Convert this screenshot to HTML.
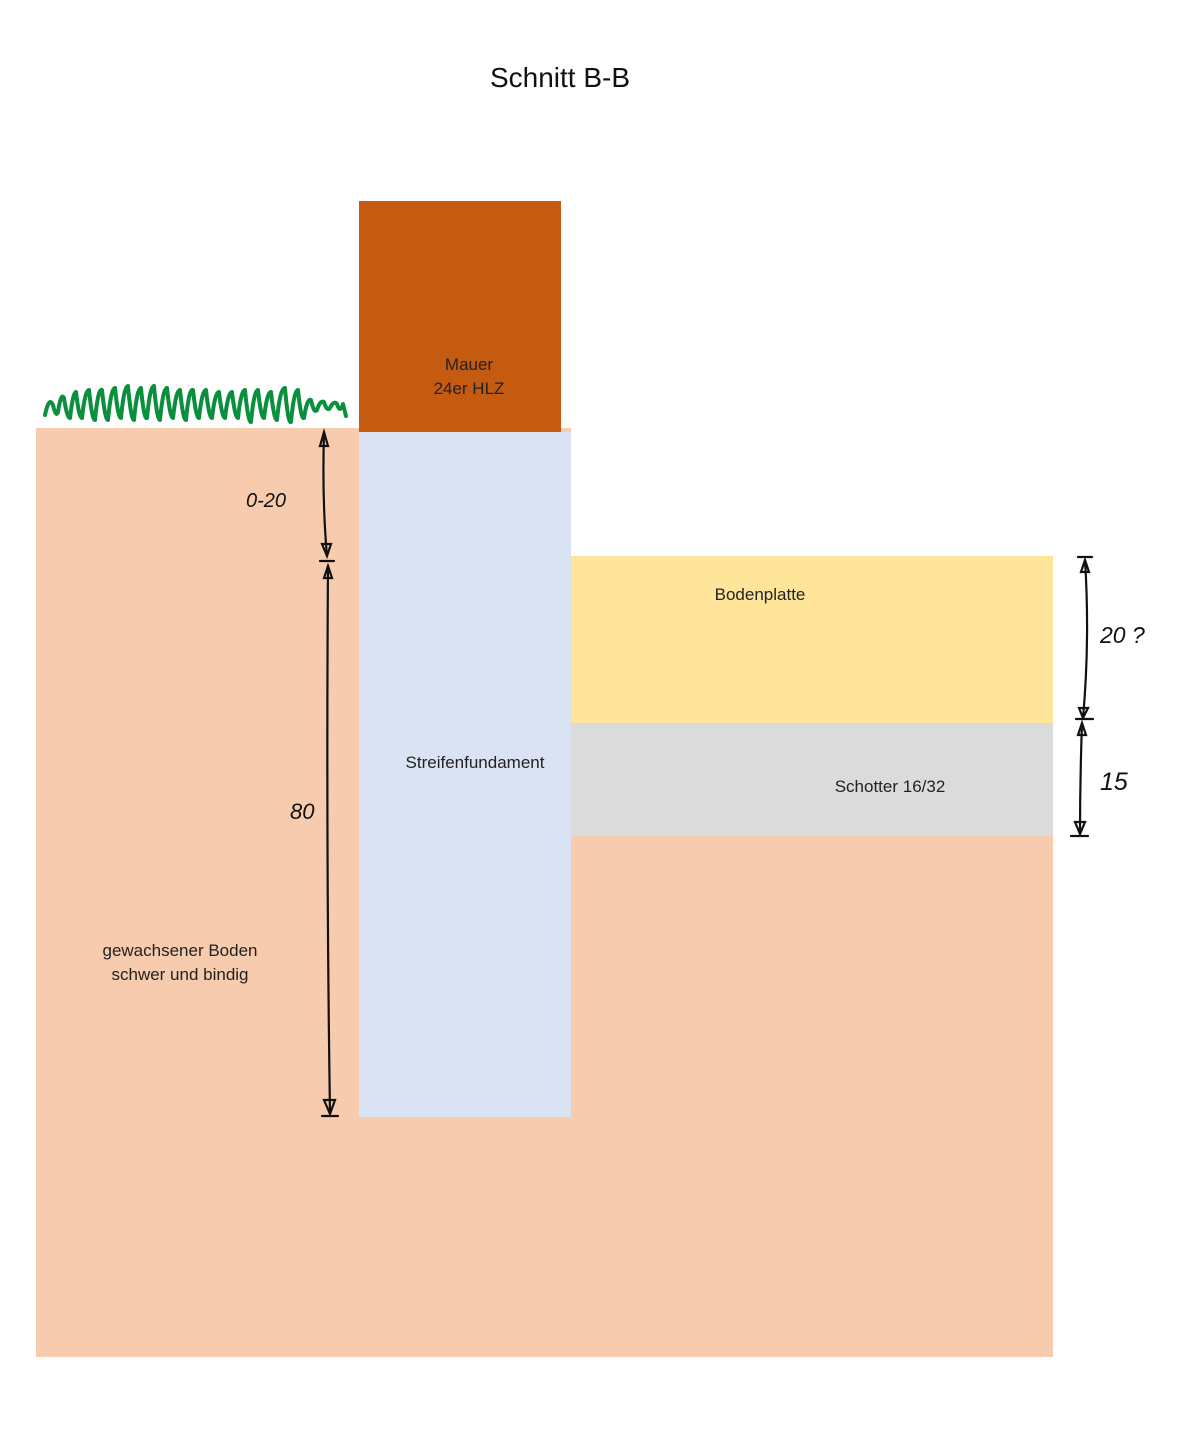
<!DOCTYPE html>
<html><head><meta charset="utf-8"><style>
html,body{margin:0;padding:0;background:#fff}
svg{display:block}
text{font-family:"Liberation Sans",sans-serif}
.h{font-family:"Liberation Sans",sans-serif;font-style:italic}
</style></head><body>
<svg width="1187" height="1455" viewBox="0 0 1187 1455" xmlns="http://www.w3.org/2000/svg">
<rect width="1187" height="1455" fill="#fff"/>
<text x="560" y="87" font-size="28" text-anchor="middle" fill="#111">Schnitt B-B</text>
<path d="M36 428 H571 V836 H1053 V1357 H36 Z" fill="#f7cbad"/>
<rect x="359" y="201" width="202" height="231" fill="#c55a11"/>
<rect x="359" y="432" width="212" height="685" fill="#dae3f3"/>
<rect x="571" y="556" width="482" height="167" fill="#ffe599"/>
<rect x="571" y="723" width="482" height="113" fill="#dbdbdb"/>
<text x="469" y="370" font-size="17" text-anchor="middle" fill="#222">Mauer</text>
<text x="469" y="394" font-size="17" text-anchor="middle" fill="#222">24er HLZ</text>
<text x="475" y="768" font-size="17" text-anchor="middle" fill="#222">Streifenfundament</text>
<text x="760" y="600" font-size="17" text-anchor="middle" fill="#222">Bodenplatte</text>
<text x="890" y="792" font-size="17" text-anchor="middle" fill="#222">Schotter 16/32</text>
<text x="180" y="956" font-size="17" text-anchor="middle" fill="#222">gewachsener Boden</text>
<text x="180" y="980" font-size="17" text-anchor="middle" fill="#222">schwer und bindig</text>
<path d="M45 415 Q49 396 53 405 Q56 418 58 412 Q61 392 64 398 Q67 418 70 418 Q73 392 76 392 Q79 418 82 418 Q85 390 89 390 Q92 420 95 420 Q98 388 102 390 Q105 420 108 420 Q111 388 115 388 Q118 418 121 418 Q124 386 128 386 Q131 420 134 420 Q137 388 141 388 Q144 420 147 418 Q150 386 154 386 Q157 420 160 420 Q163 388 167 388 Q170 418 173 418 Q176 390 180 390 Q183 420 186 420 Q189 388 193 390 Q196 418 199 418 Q202 390 206 390 Q209 418 212 418 Q215 392 219 392 Q222 418 225 418 Q228 392 232 392 Q235 418 238 418 Q241 390 245 390 Q248 422 251 422 Q254 390 258 390 Q261 418 264 418 Q267 392 271 392 Q274 420 277 420 Q280 388 285 388 Q288 424 291 422 Q294 390 298 390 Q301 420 304 418 Q307 398 311 400 Q314 414 317 410 Q320 400 324 402 Q327 412 330 408 Q334 400 337 404 Q340 414 343 404 L346 416" fill="none" stroke="#0a8f3c" stroke-width="4" stroke-linejoin="round" stroke-linecap="round"/>
<g stroke="#111" stroke-width="2.2" fill="none" stroke-linecap="round">
<path d="M324 432 Q322 500 327 556"/>
<path d="M320 446 L324 432 L328 446 Z"/>
<path d="M322 544 L327 556 L331 544 Z"/>
<path d="M320 561 H334"/>
<path d="M328 566 Q326 850 330 1114"/>
<path d="M324 578 L328 566 L332 578 Z"/>
<path d="M324 1100 L330 1114 L335 1100 Z"/>
<path d="M322 1116 H338"/>
<path d="M1078 557 H1092"/>
<path d="M1085 560 Q1090 640 1083 718"/>
<path d="M1081 572 L1085 560 L1089 572 Z"/>
<path d="M1079 708 L1083 718 L1088 708 Z"/>
<path d="M1076 719 H1093"/>
<path d="M1082 723 Q1080 780 1080 834"/>
<path d="M1078 735 L1082 723 L1086 735 Z"/>
<path d="M1075 822 L1080 834 L1085 822 Z"/>
<path d="M1071 836 H1088"/>
</g>
<text class="h" x="246" y="507" font-size="20" fill="#111">0-20</text>
<text class="h" x="290" y="819" font-size="22" fill="#111">80</text>
<text class="h" x="1100" y="643" font-size="23" fill="#111">20 ?</text>
<text class="h" x="1100" y="790" font-size="25" fill="#111">15</text>
</svg>
</body></html>
